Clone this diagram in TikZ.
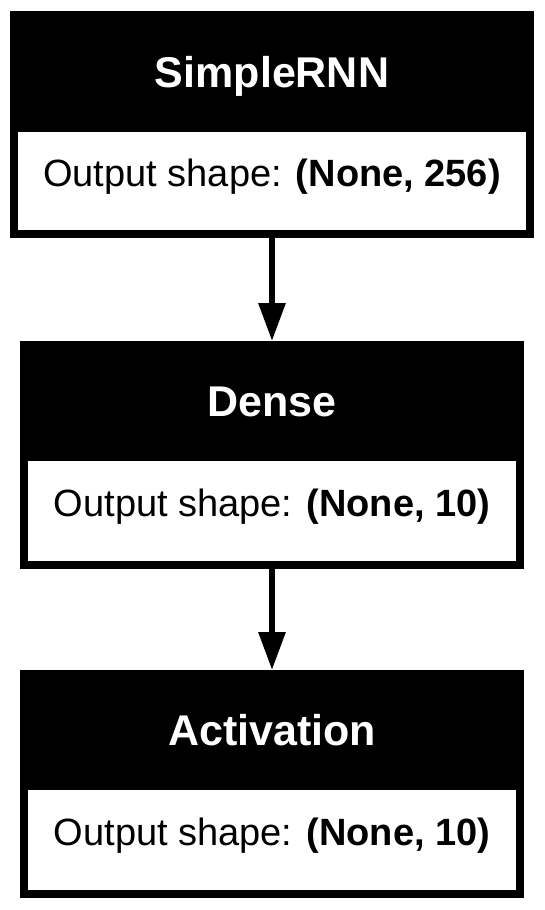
\documentclass[tikz,border=0pt]{standalone}
\usepackage{fontspec}
\setmainfont{Liberation Sans}
\usetikzlibrary{arrows.meta}
\tikzset{
  layerbox/.style={fill=black, inner sep=0pt, outer sep=0pt},
  headtext/.style={text=white, inner sep=0pt, outer sep=0pt, text height=23.25pt, text depth=0pt,
    font=\fontsize{32.25pt}{38pt}\selectfont\bfseries},
  shapebox/.style={fill=white, inner sep=0pt, outer sep=0pt, text height=15pt, text depth=6.75pt,
    font=\fontsize{28.5pt}{34pt}\selectfont},
  flow/.style={line width=4.5pt, -{Triangle[length=28.5pt,width=19.5pt]}}
}
\begin{document}
\begin{tikzpicture}[x=0.75pt, y=-0.75pt]
        \useasboundingbox (0,0) rectangle (544,910);
        % SimpleRNN
        \node[layerbox, minimum width=393pt, minimum height=170.25pt] (rnn) at (272,124.5) {};
        \node[headtext] (rnnhead) at (272,71.5) {SimpleRNN};
        \node[shapebox, minimum width=381pt, minimum height=73.5pt] (rnnshape) at (272,181) {Output shape: \textbf{(None, 256)}};
        % Dense
        \node[layerbox, minimum width=378pt, minimum height=171pt] (dense) at (272,455) {};
        \node[headtext] (densehead) at (272,401) {Dense};
        \node[shapebox, minimum width=366pt, minimum height=75pt] (denseshape) at (272,511) {Output shape: \textbf{(None, 10)}};
        % Activation
        \node[layerbox, minimum width=378pt, minimum height=171pt] (act) at (272,784) {};
        \node[headtext] (acthead) at (272,730) {Activation};
        \node[shapebox, minimum width=366pt, minimum height=75pt] (actshape) at (272,840) {Output shape: \textbf{(None, 10)}};
        % arrows
        \draw[flow] (rnn.south) -- (dense.north);
        \draw[flow] (dense.south) -- (act.north);
\end{tikzpicture}
\end{document}
